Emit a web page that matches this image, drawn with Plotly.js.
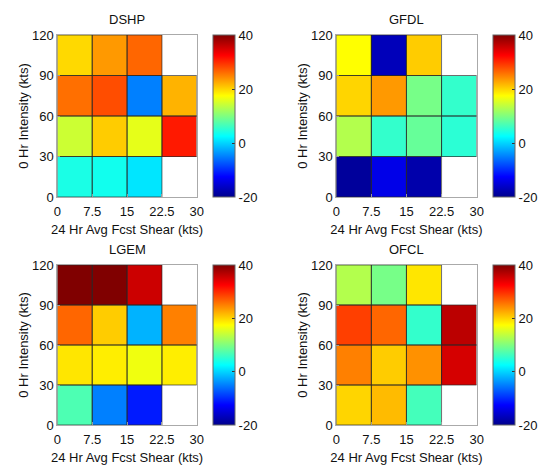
<!DOCTYPE html>
<html><head><meta charset="utf-8">
<script src="https://cdn.plot.ly/plotly-3.0.1.min.js"></script>
<style>html,body{margin:0;padding:0;background:#fff}#chart{width:542px;height:466px}</style>
</head><body><div id="chart"></div>
<script>
// Bin edges (kts)
const xEdges = [0, 7.5, 15, 22.5, 30];
const yEdges = [0, 30, 60, 90, 120];
const xTickText = ['0', '7.5', '15', '22.5', '30'];
const yTickText = ['0', '30', '60', '90', '120'];
const cbTickVals = [-20, 0, 20, 40];
const cbTickText = ['-20', '0', '20', '40'];
const panelNames = ['DSHP', 'GFDL', 'LGEM', 'OFCL'];
// rows: intensity bins from 0-30 up to 90-120; columns: shear bins
const dshp = [
  [4, 3.5, 1, null],
  [14.5, 20.5, 16, 31],
  [26, 28, -5, 22],
  [19.75, 23.5, 26.5, null]
];
const gfdl = [
  [-19, -14, -18, null],
  [13, 5.5, 8.5, 5],
  [20, 23.5, 9.5, 5.5],
  [17.5, -17, 20.5, null]
];
const lgem = [
  [7, -5, -11, null],
  [19, 18.5, 16.6, 18.5],
  [26.5, 20.5, -2, 25],
  [40, 40, 35.5, null]
];
const ofcl = [
  [20, 21.5, 6.5, null],
  [25, 20.5, 24, 35],
  [28.8, 26.5, 5.5, 36.5],
  [13, 9.5, 19, null]
];
const panels = [dshp, gfdl, lgem, ofcl];

const jet = [[0, 'rgb(0,0,140)'], [0.125, 'rgb(0,0,255)'], [0.375, 'rgb(0,255,255)'],
             [0.625, 'rgb(255,255,0)'], [0.875, 'rgb(255,0,0)'], [1, 'rgb(128,0,0)']];

const W = 542, H = 466;
const xDom = [[58 / W, 199 / W], [340 / W, 482 / W]];
const yDom = [[(H - 197) / H, (H - 35) / H], [(H - 425) / H, (H - 265) / H]];
const cbX = [215 / W, 499 / W];

const font = {family: 'Liberation Sans, Arial, sans-serif', size: 13, color: '#111'};
const data = [];
const layout = {
  width: W, height: H, margin: {l: 0, r: 0, t: 0, b: 0},
  paper_bgcolor: '#fff', plot_bgcolor: '#fff', font: font, showlegend: false,
  annotations: []
};

panels.forEach((z, i) => {
  const col = i % 2, row = Math.floor(i / 2);
  const ax = i === 0 ? '' : String(i + 1);
  data.push({
    type: 'heatmap', x: xEdges, y: yEdges, z: z,
    xaxis: 'x' + ax, yaxis: 'y' + ax,
    colorscale: jet, zmin: -20, zmax: 40, zsmooth: false, hoverongaps: false,
    showscale: true,
    colorbar: {
      x: cbX[col], xanchor: 'left', y: yDom[row][0], yanchor: 'bottom',
      len: yDom[row][1] - yDom[row][0], lenmode: 'fraction',
      thickness: 22, thicknessmode: 'pixels', xpad: 0, ypad: 0,
      outlinecolor: '#666', outlinewidth: 1,
      tickvals: cbTickVals, ticktext: cbTickText, ticks: 'inside', ticklen: 3,
      tickcolor: '#333', tickfont: font
    }
  });
  // cell outlines for non-empty cells
  const lx = [], ly = [];
  z.forEach((r, ri) => r.forEach((v, ci) => {
    if (v === null) return;
    const x0 = xEdges[ci], x1 = xEdges[ci + 1], y0 = yEdges[ri], y1 = yEdges[ri + 1];
    lx.push(x0, x1, x1, x0, x0, null);
    ly.push(y0, y0, y1, y1, y0, null);
  }));
  data.push({
    type: 'scatter', mode: 'lines', x: lx, y: ly, xaxis: 'x' + ax, yaxis: 'y' + ax,
    line: {color: 'rgba(40,40,40,0.85)', width: 0.8}, hoverinfo: 'skip'
  });
  layout['xaxis' + ax] = {
    domain: xDom[col], anchor: 'y' + ax, range: [0, 30],
    tickvals: xEdges, ticktext: xTickText, ticks: 'inside', ticklen: 3, tickcolor: '#999',
    showgrid: false, zeroline: false, showline: true, mirror: true, linecolor: '#aaa', linewidth: 1,
    tickfont: font, ticklabelstandoff: 2,
    title: {text: '24 Hr Avg Fcst Shear (kts)', font: font, standoff: 7}
  };
  layout['yaxis' + ax] = {
    domain: yDom[row], anchor: 'x' + ax, range: [0, 120],
    tickvals: yEdges, ticktext: yTickText, ticks: 'inside', ticklen: 3, tickcolor: '#999',
    showgrid: false, zeroline: false, showline: true, mirror: true, linecolor: '#aaa', linewidth: 1,
    tickfont: font,
    title: {text: '0 Hr Intensity (kts)', font: font, standoff: 0}
  };
  layout.annotations.push({
    text: panelNames[i], xref: 'paper', yref: 'paper',
    x: (xDom[col][0] + xDom[col][1]) / 2, y: yDom[row][1] + 15 / H,
    xanchor: 'center', yanchor: 'middle', showarrow: false, font: font
  });
});

Plotly.newPlot('chart', data, layout, {staticPlot: true});
</script>
</body></html>
